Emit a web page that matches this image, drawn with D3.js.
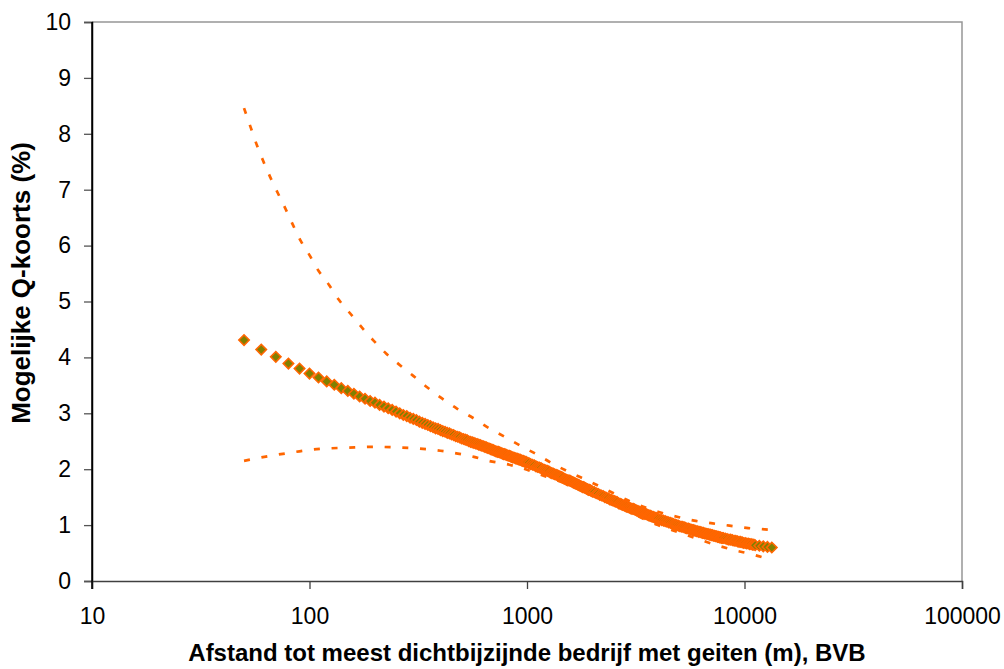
<!DOCTYPE html>
<html><head><meta charset="utf-8">
<script src="https://cdn.jsdelivr.net/npm/d3@7"></script>
<style>
body{margin:0;background:#fff}
svg{display:block}
text{font-family:"Liberation Sans",Arial,Helvetica,sans-serif;fill:#000}
</style>
</head><body>
<svg id="chart" width="1004" height="669"></svg>
<script>
// ---- data ----
const distances = [
 50,60,70,80,90,100,110,120,130,140,150,160,170,180,190,200,210,220,230,240,250,260,270,280,290,300,
 310,320,330,340,350,360,370,380,390,400,410,420,430,440,450,460,470,480,490,500,510,520,530,540,550,
 560,570,580,590,600,610,620,630,640,650,660,670,680,690,700,710,720,730,740,750,760,770,780,790,800,
 810,820,830,840,850,860,870,880,890,900,910,920,930,940,950,960,970,980,990,1000,
 1020,1040,1060,1080,1100,1120,1140,1160,1180,1200,1220,1240,1260,1280,1300,1320,1340,1360,1380,1400,
 1420,1440,1460,1480,1500,1520,1540,1560,1580,1600,1620,1640,1660,1680,1700,1720,1740,1760,1780,1800,
 1820,1840,1860,1880,1900,1920,1940,1960,1980,2000,
 2040,2080,2120,2160,2200,2240,2280,2320,2360,2400,2440,2480,2520,2560,2600,2640,2680,2720,2760,2800,
 2840,2880,2920,2960,3000,3040,3080,3120,3160,3200,3240,3280,3320,3360,3400,3440,3480,3520,3560,3600,
 3640,3680,3720,3760,3800,3840,3880,3920,3960,4000,
 4080,4160,4240,4320,4400,4480,4560,4640,4720,4800,4880,4960,5040,5120,5200,5280,5360,5440,5520,5600,
 5680,5760,5840,5920,6000,6080,6160,6240,6320,6400,6480,6560,6640,6720,6800,6880,6960,7040,7120,7200,
 7280,7360,7440,7520,7600,7680,7760,7840,7920,8000,
 8160,8320,8480,8640,8800,8960,9120,9280,9440,9600,9760,9920,10080,10240,10400,10560,10720,10880,11040,11200,
 11700,12200,12750,13350
];
const risk = [
 4.31,4.14,4.01,3.89,3.80,3.71,3.64,3.57,3.51,3.45,3.40,3.35,3.30,3.26,3.22,3.19,3.15,3.12,3.09,3.06,3.03,3.00,2.97,2.95,2.92,2.90,
 2.88,2.85,2.83,2.81,2.79,2.77,2.75,2.73,2.72,2.70,2.68,2.67,2.65,2.64,2.62,2.61,2.59,2.58,2.57,2.55,2.54,2.53,2.52,2.50,2.49,
 2.48,2.47,2.46,2.45,2.44,2.43,2.42,2.41,2.40,2.39,2.38,2.37,2.36,2.35,2.34,2.33,2.32,2.31,2.31,2.30,2.29,2.28,2.27,2.27,2.26,
 2.25,2.24,2.24,2.23,2.22,2.21,2.21,2.20,2.19,2.19,2.18,2.17,2.17,2.16,2.15,2.15,2.14,2.13,2.13,2.12,
 2.11,2.09,2.08,2.07,2.05,2.04,2.03,2.02,2.00,1.99,1.98,1.97,1.96,1.94,1.93,1.92,1.91,1.90,1.89,1.88,
 1.87,1.86,1.85,1.83,1.82,1.81,1.80,1.80,1.79,1.78,1.77,1.76,1.75,1.74,1.73,1.72,1.71,1.70,1.69,1.68,
 1.68,1.67,1.66,1.65,1.64,1.63,1.63,1.62,1.61,1.60,
 1.59,1.57,1.56,1.54,1.53,1.52,1.50,1.49,1.48,1.46,1.45,1.44,1.43,1.42,1.41,1.39,1.38,1.37,1.36,1.35,
 1.34,1.33,1.32,1.31,1.30,1.29,1.29,1.28,1.27,1.26,1.25,1.24,1.23,1.23,1.22,1.21,1.20,1.20,1.19,1.18,
 1.17,1.17,1.16,1.15,1.15,1.14,1.13,1.13,1.12,1.11,
 1.10,1.09,1.08,1.07,1.06,1.05,1.04,1.03,1.02,1.01,1.00,0.99,0.98,0.97,0.97,0.96,0.95,0.94,0.94,0.93,
 0.92,0.91,0.91,0.90,0.89,0.89,0.88,0.88,0.87,0.86,0.86,0.85,0.85,0.84,0.84,0.83,0.83,0.82,0.82,0.81,
 0.81,0.80,0.80,0.79,0.79,0.78,0.78,0.77,0.77,0.77,
 0.76,0.75,0.74,0.74,0.73,0.72,0.72,0.71,0.70,0.70,0.69,0.68,0.68,0.67,0.67,0.66,0.66,0.65,0.65,0.64,
 0.63,0.62,0.61,0.60
];
const upperDist = [50,53.7,57,61,65.9,71.3,77.3,83.7,91,100,110,122.8,136.5,153.6,173.6,196,225,257,300,346,405,478,563,665,789,943,1115,1324,1600,1916,2500,3000,4000,5000,5875,7150,8530,10200,12400,13350];
const upperCI   = [8.46,8.11,7.82,7.53,7.23,6.95,6.67,6.38,6.09,5.83,5.55,5.30,5.03,4.79,4.54,4.31,4.07,3.88,3.67,3.47,3.27,3.08,2.92,2.74,2.58,2.41,2.26,2.09,1.93,1.79,1.57,1.42,1.24,1.14,1.08,1.03,0.99,0.95,0.925,0.915];
const lowerDist = [50,60,70,80,90,100,120,150,200,250,300,350,400,480,570,665,830,1000,1200,1440,2000,3000,4000,5000,6300,7600,8900,10800,12800,13350];
const lowerCI   = [2.15,2.21,2.255,2.29,2.32,2.345,2.37,2.385,2.40,2.39,2.375,2.355,2.33,2.28,2.22,2.15,2.08,1.99,1.88,1.77,1.53,1.22,1.00,0.87,0.733,0.63,0.555,0.478,0.40,0.385];

const xTicks = [10,100,1000,10000,100000];
const yTicks = [0,1,2,3,4,5,6,7,8,9,10];
const xTitle = "Afstand tot meest dichtbijzijnde bedrijf met geiten (m), BVB";
const yTitle = "Mogelijke Q-koorts (%)";

// ---- layout ----
const L = 92, R = 962, T = 22, B = 581;
const orange = "#FF6600", olive = "#808000";
const svg = d3.select("#chart");
const x = d3.scaleLog().domain([10,100000]).range([L,R]);
const y = d3.scaleLinear().domain([0,10]).range([B,T]);

// plot area border (top/right gray)
svg.append("path").attr("d",`M${L},${T}H${R}V${B}`).attr("fill","none")
  .attr("stroke","#969696").attr("stroke-width",1.5);

// series
const pts = distances.map((d,i)=>({d, v:risk[i]}));
const sym = d3.symbol().type(d3.symbolSquare).size(54);
svg.append("g").selectAll("path").data(pts).join("path")
  .attr("d", sym)
  .attr("transform", p=>`translate(${x(p.d)},${y(p.v)}) rotate(45)`)
  .attr("fill", olive).attr("stroke", orange).attr("stroke-width",1.6);

const line = d3.line().x(p=>x(p[0])).y(p=>y(p[1])).curve(d3.curveMonotoneX);
[[upperDist,upperCI],[lowerDist,lowerCI]].forEach(([ds,vs])=>{
  svg.append("path").datum(ds.map((d,i)=>[d,vs[i]]))
    .attr("d", line).attr("fill","none").attr("stroke",orange)
    .attr("stroke-width",2.7).attr("stroke-dasharray","6,11.7");
});

// axes
const fs = 23;
const yAxis = svg.append("g").attr("transform",`translate(${L},0)`)
  .call(d3.axisLeft(y).tickValues(yTicks).tickSize(8).tickPadding(13).tickFormat(d3.format("d")));
yAxis.select(".domain").attr("stroke","#000").attr("stroke-width",1.5);
yAxis.selectAll(".tick line").attr("stroke","#555").attr("stroke-width",1.3);
yAxis.selectAll("text").attr("font-size",fs).attr("font-family",null);

const xAxis = svg.append("g").attr("transform",`translate(0,${B})`)
  .call(d3.axisBottom(x).tickValues(xTicks).tickSize(8).tickPadding(19).tickFormat(d3.format("d")));
xAxis.select(".domain").attr("stroke","#404040").attr("stroke-width",1.5);
xAxis.selectAll(".tick line").attr("stroke","#404040").attr("stroke-width",1.3);
xAxis.selectAll("text").attr("font-size",fs).attr("font-family",null);
// keep left axis line on top
svg.append("line").attr("x1",L).attr("x2",L).attr("y1",T).attr("y2",B+8).attr("stroke","#000").attr("stroke-width",1.5);

// titles
svg.append("text").attr("x",(L+R)/2).attr("y",661).attr("text-anchor","middle")
  .attr("font-size",24).attr("font-weight","bold").text(xTitle);
svg.append("text").attr("transform",`translate(30,283) rotate(-90)`).attr("text-anchor","middle")
  .attr("font-size",26).attr("font-weight","bold").text(yTitle);
</script>
</body></html>
